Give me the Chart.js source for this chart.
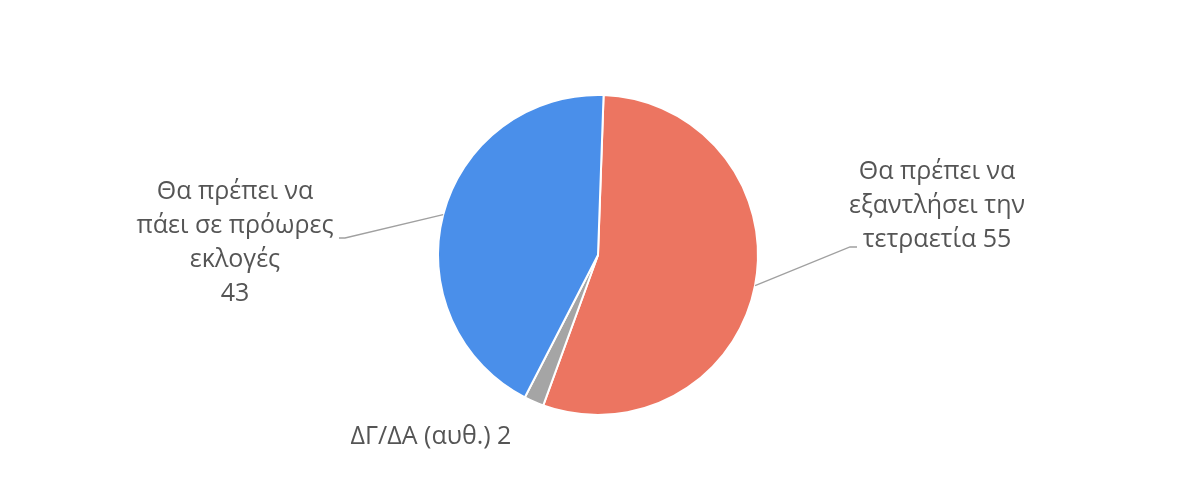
<!DOCTYPE html>
<html>
<head>
<meta charset="utf-8">
<script src="https://cdn.jsdelivr.net/npm/chart.js@4.4.0/dist/chart.umd.min.js"></script>
<style>
  html, body { margin: 0; padding: 0; background: #fff; }
  #wrap { width: 1180px; height: 491px; }
</style>
</head>
<body>
<div id="wrap"><canvas id="pieChart" width="1180" height="491"></canvas></div>
<script>
// data
const categories = ["Θα πρέπει να εξαντλήσει την τετραετία", "ΔΓ/ΔΑ (αυθ.)", "Θα πρέπει να πάει σε πρόωρες εκλογές"];
const values = [55, 2, 43];
const colors = ["#EC7561", "#A5A5A5", "#4A8FEA"];

// label text lines + where to put them (x center, first line y)
const labelLines = [
  ["Θα πρέπει να", "εξαντλήσει την", "τετραετία 55"],
  ["ΔΓ/ΔΑ (αυθ.) 2"],
  ["Θα πρέπει να", "πάει σε πρόωρες", "εκλογές", "43"]
];
const labelPos = [
  { x: 937, y: 172, lineFrom: [850, 247], elbow: [857, 247] },
  { x: 431, y: 437 },
  { x: 235, y: 192, lineFrom: [345, 238], elbow: [339, 238] }
];

const labelPlugin = {
  id: "pieLabels",
  afterDraw(chart) {
    const c = chart.ctx;
    const meta = chart.getDatasetMeta(0);
    c.save();
    c.font = "25px 'Open Sans', sans-serif";
    c.fillStyle = "#555555";
    c.textAlign = "center";
    c.textBaseline = "middle";
    meta.data.forEach((arc, i) => {
      const p = labelPos[i];
      labelLines[i].forEach((t, j) => c.fillText(t, p.x, p.y + j * 34));
      if (p.lineFrom) {
        const mid = (arc.startAngle + arc.endAngle) / 2;
        const ex = arc.x + Math.cos(mid) * arc.outerRadius;
        const ey = arc.y + Math.sin(mid) * arc.outerRadius;
        c.strokeStyle = "#A0A0A0";
        c.lineWidth = 1.3;
        c.beginPath();
        c.moveTo(p.elbow[0], p.elbow[1]);
        c.lineTo(p.lineFrom[0], p.lineFrom[1]);
        c.lineTo(ex, ey);
        c.stroke();
      }
    });
    c.restore();
  }
};

var ctx = document.getElementById("pieChart").getContext("2d");
var myChart = new Chart(ctx, {
  type: "pie",
  data: {
    labels: categories,
    datasets: [
      {
        data: values,
        backgroundColor: colors,
        borderColor: "#ffffff",
        borderWidth: 2,
      },
    ],
  },
  options: {
    responsive: false,
    animation: false,
    rotation: 2,
    layout: {
      padding: { left: 16, right: 0, top: 94, bottom: 75 },
    },
    plugins: {
      legend: { display: false },
      tooltip: { enabled: false },
    },
  },
  plugins: [labelPlugin],
});
</script>
</body>
</html>
